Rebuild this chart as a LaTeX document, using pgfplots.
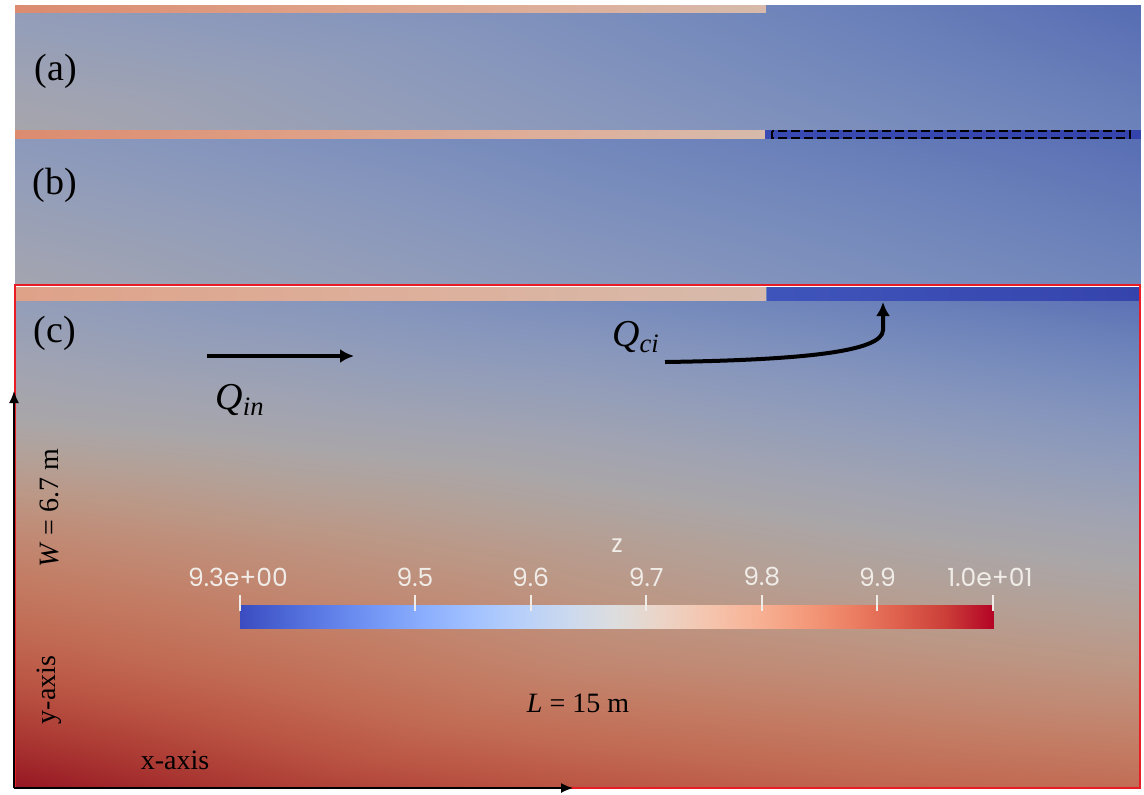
\documentclass[border=0pt]{standalone}
\usepackage{fontspec}
\setmainfont{Liberation Serif}
\newfontfamily\cbfont{Poppins}
\usepackage{pgfplots}
\pgfplotsset{compat=1.18}
\usetikzlibrary{arrows.meta}

% Cool-to-warm diverging map (colour bar), its shaded version for the water
% surface, and a slightly shaded version for the wall strips
\pgfplotsset{
  colormap={coolwarm}{
    rgb255=(59,76,192) rgb255=(77,104,215) rgb255=(98,130,234) rgb255=(119,154,247)
    rgb255=(141,176,254) rgb255=(163,194,255) rgb255=(184,208,249) rgb255=(204,217,238)
    rgb255=(221,221,221) rgb255=(236,211,197) rgb255=(245,196,173) rgb255=(247,177,148)
    rgb255=(244,154,123) rgb255=(236,127,99) rgb255=(222,96,77) rgb255=(203,62,56)
    rgb255=(180,4,38)},
  colormap={coolwarmlit}{
    rgb255=(52,68,160) rgb255=(68,88,172) rgb255=(88,110,180) rgb255=(105,127,185)
    rgb255=(120,140,188) rgb255=(135,150,188) rgb255=(148,158,185) rgb255=(160,163,178)
    rgb255=(170,166,168) rgb255=(180,160,150) rgb255=(188,150,132) rgb255=(193,137,115)
    rgb255=(195,122,98) rgb255=(193,105,82) rgb255=(185,82,66) rgb255=(170,55,50)
    rgb255=(150,22,35)},
  colormap={coolwarmwall}{
    rgb255=(53,68,173) rgb255=(69,94,194) rgb255=(88,117,211) rgb255=(107,139,222)
    rgb255=(127,158,229) rgb255=(147,175,230) rgb255=(166,187,224) rgb255=(184,195,214)
    rgb255=(199,199,199) rgb255=(212,190,177) rgb255=(221,176,156) rgb255=(222,159,133)
    rgb255=(220,139,111) rgb255=(212,114,89) rgb255=(200,86,69) rgb255=(183,56,50)
    rgb255=(162,4,34)},
}
\definecolor{framered}{RGB}{232,28,36}
\definecolor{ticktext}{RGB}{240,236,232}

\begin{document}
\begin{tikzpicture}
\begin{axis}[
  width=572pt, height=397pt, scale only axis,
  xmin=0, xmax=1144, ymin=0, ymax=794, y dir=reverse,
  hide axis, clip=false,
  point meta min=9.349, point meta max=10.0,
  colormap name=coolwarm,
]
\fill[white] (axis cs:0,0) rectangle (axis cs:1144,794);

% ---- panel (a): water level z over the channel
\addplot[surf, shader=interp, mesh/cols=3, point meta=explicit, colormap name=coolwarmlit]
  table[meta=z] {
x y z
15 5 9.583
577 5 9.518
1140 5 9.427
15 130 9.661
577 130 9.564
1140 130 9.479
};
% ---- panel (b)
\addplot[surf, shader=interp, mesh/cols=3, point meta=explicit, colormap name=coolwarmlit]
  table[meta=z] {
x y z
15 130 9.564
577 130 9.492
1140 130 9.427
15 285 9.648
577 285 9.564
1140 285 9.492
};
% ---- panel (c)
\addplot[surf, shader=interp, mesh/cols=5, point meta=explicit, colormap name=coolwarmlit]
  table[meta=z] {
x y z
15 287 9.583
296 287 9.544
577 287 9.505
858 287 9.466
1140 287 9.427
15 422 9.675
296 422 9.648
577 422 9.622
858 422 9.583
1140 422 9.544
15 544 9.805
296 544 9.766
577 544 9.727
858 544 9.688
1140 544 9.655
15 666 9.902
296 666 9.857
577 666 9.805
858 666 9.779
1140 666 9.753
15 788 10.000
296 788 9.948
577 788 9.915
858 788 9.889
1140 788 9.870
};

% ---- wall strips
\addplot[surf, shader=interp, mesh/cols=2, point meta=explicit, colormap name=coolwarmwall]
  table[meta=z] {
x y z
15 5 9.837
765 5 9.727
15 12 9.837
765 12 9.727
};
\addplot[surf, shader=interp, mesh/cols=2, point meta=explicit, colormap name=coolwarmwall]
  table[meta=z] {
x y z
15 130 9.837
765 130 9.727
15 138 9.837
765 138 9.727
};
\addplot[surf, shader=interp, mesh/cols=2, point meta=explicit, colormap name=coolwarmwall]
  table[meta=z] {
x y z
765 130 9.360
1140 130 9.349
765 138 9.360
1140 138 9.349
};
\addplot[surf, shader=interp, mesh/cols=2, point meta=explicit, colormap name=coolwarmwall]
  table[meta=z] {
x y z
15 287 9.790
765 287 9.727
15 300 9.790
765 300 9.727
};
\addplot[surf, shader=interp, mesh/cols=2, point meta=explicit, colormap name=coolwarmwall]
  table[meta=z] {
x y z
767 287 9.375
1140 287 9.349
767 300 9.375
1140 300 9.349
};

% dashed outline of the lateral inflow section
\draw[black, line width=1pt, dash pattern=on 4.5pt off 2pt]
  (axis cs:772,131) rectangle (axis cs:1130,138);

% ---- colour bar for z
\addplot[surf, shader=interp, mesh/cols=8, point meta=explicit, colormap name=coolwarm]
  table[meta=z] {
x y z
240 605 9.349
347.6 605 9.442
455.1 605 9.535
562.7 605 9.628
670.3 605 9.721
777.9 605 9.814
885.4 605 9.907
993 605 10.000
240 628 9.349
347.6 628 9.442
455.1 628 9.535
562.7 628 9.628
670.3 628 9.721
777.9 628 9.814
885.4 628 9.907
993 628 10.000
};
\draw[ticktext, line width=1pt] (axis cs:240,595) -- (axis cs:240,611);
\draw[ticktext, line width=1pt] (axis cs:415,595) -- (axis cs:415,611);
\draw[ticktext, line width=1pt] (axis cs:530.6,595) -- (axis cs:530.6,611);
\draw[ticktext, line width=1pt] (axis cs:646.2,595) -- (axis cs:646.2,611);
\draw[ticktext, line width=1pt] (axis cs:761.8,595) -- (axis cs:761.8,611);
\draw[ticktext, line width=1pt] (axis cs:877.4,595) -- (axis cs:877.4,611);
\draw[ticktext, line width=1pt] (axis cs:993,595) -- (axis cs:993,611);
\begin{scope}[every node/.style={text=ticktext, font=\cbfont\fontsize{12.5}{14}\selectfont}]
  \node at (axis cs:238,577) {9.3e+00};
  \node at (axis cs:415,577) {9.5};
  \node at (axis cs:530.6,577) {9.6};
  \node at (axis cs:646.2,577) {9.7};
  \node at (axis cs:761.8,577) {9.8};
  \node at (axis cs:877.4,577) {9.9};
  \node at (axis cs:990,577) {1.0e+01};
  \node at (axis cs:617,546) {z};
\end{scope}

% ---- frame of panel (c) and coordinate axes
\draw[framered, line width=1pt] (axis cs:15,285) rectangle (axis cs:1140,788);
\draw[black, line width=0.7pt, -{Latex[length=6pt,width=5pt]}]
  (axis cs:14,788) -- (axis cs:14,391);
\draw[black, line width=0.7pt, -{Latex[length=6pt,width=5pt]}]
  (axis cs:14,788) -- (axis cs:573,788);

% ---- flow arrows
\draw[black, line width=2pt, -{Latex[length=7pt,width=7pt]}]
  (axis cs:207,356) -- (axis cs:354,356);
\draw[black, line width=2pt, -{Latex[length=7pt,width=7pt]}]
  (axis cs:665,362) .. controls (axis cs:800,360) and (axis cs:883,352) ..
  (axis cs:883,330) -- (axis cs:883,302);

% ---- labels
\begin{scope}[every node/.style={text=black}]
  \node[font=\fontsize{19}{21}\selectfont] at (axis cs:56,71) {(a)};
  \node[font=\fontsize{19}{21}\selectfont] at (axis cs:55,185) {(b)};
  \node[font=\fontsize{19}{21}\selectfont] at (axis cs:55,333) {(c)};
  \node[font=\fontsize{19}{21}\selectfont] at (axis cs:240,400) {\textit{Q}\textsubscript{\textit{in}}};
  \node[font=\fontsize{19}{21}\selectfont] at (axis cs:636,337) {\textit{Q}\textsubscript{\textit{ci}}};
  \node[font=\fontsize{14}{16}\selectfont, rotate=90] at (axis cs:49,508) {\textit{W} = 6.7 m};
  \node[font=\fontsize{14}{16}\selectfont, rotate=90] at (axis cs:49,690) {y-axis};
  \node[font=\fontsize{14}{16}\selectfont] at (axis cs:175,760) {x-axis};
  \node[font=\fontsize{14}{16}\selectfont] at (axis cs:578,703) {\textit{L} = 15 m};
\end{scope}
\end{axis}
\end{tikzpicture}
\end{document}
